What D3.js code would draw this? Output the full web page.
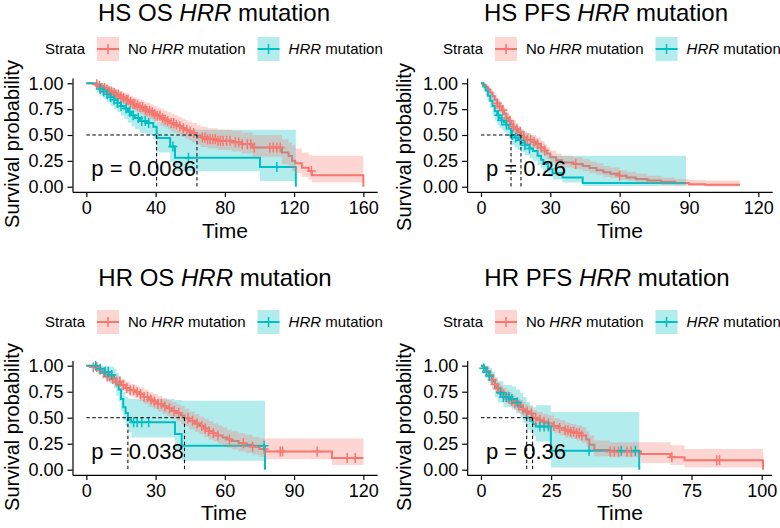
<!DOCTYPE html>
<html>
<head>
<meta charset="utf-8">
<script src="https://cdnjs.cloudflare.com/ajax/libs/d3/7.8.5/d3.min.js"></script>
<style>
  body { margin: 0; background: #fff; }
  svg { display: block; font-family: "Liberation Sans", Arial, sans-serif; }
</style>
</head>
<body>
<svg id="chart" width="780" height="528"></svg>
<script>
// ---- data: rows are [time, survival, lower CI, upper CI]; last row ends the curve
const titlePrefixes = ["HS OS", "HS PFS", "HR OS", "HR PFS"];
const pValues = ["p = 0.0086", "p = 0.26", "p = 0.038", "p = 0.36"];
const xTicks = [[0, 40, 80, 120, 160], [0, 30, 60, 90, 120], [0, 30, 60, 90, 120], [0, 25, 50, 75, 100]];
const yTicks = [0, 0.25, 0.5, 0.75, 1];
const medians = [[63.9, 40.6], [17.3, 13], [42.5, 18], [18.4, 16.3]];

const hsOsNo = [
  [0,1,1,1],[4,0.99,0.97,1],[7,0.975,0.95,1],[9,0.955,0.92,0.99],[11,0.94,0.9,0.98],
  [13,0.92,0.88,0.965],[15,0.905,0.86,0.95],[17,0.89,0.84,0.94],[19,0.87,0.82,0.925],
  [21,0.855,0.8,0.91],[23,0.84,0.78,0.9],[25,0.82,0.76,0.88],[27,0.8,0.74,0.865],
  [29,0.785,0.72,0.85],[31,0.77,0.7,0.84],[33,0.75,0.68,0.82],[35,0.735,0.665,0.81],
  [37,0.72,0.65,0.795],[39,0.7,0.63,0.78],[41,0.685,0.61,0.765],[43,0.665,0.59,0.75],
  [45,0.65,0.575,0.735],[47,0.635,0.555,0.72],[49,0.615,0.535,0.705],[51,0.6,0.52,0.69],
  [53,0.585,0.5,0.675],[55,0.565,0.48,0.66],[57,0.55,0.465,0.645],[59,0.535,0.45,0.63],
  [61,0.52,0.43,0.615],[63.9,0.495,0.405,0.595],[66,0.475,0.385,0.58],[70,0.46,0.37,0.565],
  [76,0.445,0.355,0.55],[84,0.43,0.34,0.54],[90,0.41,0.32,0.525],[96,0.38,0.29,0.5],
  [113,0.33,0.22,0.46],[116.8,0.297,0.19,0.43],[118.8,0.25,0.15,0.4],[120.7,0.226,0.13,0.37],
  [124.5,0.184,0.095,0.33],[128.4,0.152,0.07,0.31],[130.3,0.11,0.04,0.3],[160,0,0,0]
];
const hsOsHrr = [
  [0,1,1,1],[6,0.97,0.91,1],[8,0.945,0.88,1],[10,0.92,0.85,0.99],[12,0.895,0.82,0.975],
  [14,0.865,0.78,0.96],[16,0.84,0.75,0.94],[18,0.81,0.72,0.915],[20,0.78,0.685,0.89],
  [22,0.755,0.655,0.87],[24,0.725,0.62,0.845],[26,0.69,0.585,0.815],[28,0.665,0.555,0.79],
  [31,0.635,0.52,0.77],[35,0.615,0.5,0.755],[38.7,0.58,0.46,0.73],[40.6,0.47,0.33,0.62],
  [48.4,0.39,0.24,0.58],[51.2,0.28,0.15,0.55],[100.3,0.19,0.055,0.55],[121,0,0,0]
];
const hsPfsNo = [
  [0,1,1,1],[1,0.985,0.97,1],[2,0.965,0.94,0.99],[3,0.94,0.91,0.97],[4,0.91,0.875,0.945],
  [5,0.875,0.835,0.915],[6,0.84,0.795,0.885],[7,0.805,0.755,0.85],[8,0.775,0.725,0.825],
  [9,0.74,0.69,0.795],[10,0.705,0.65,0.76],[11,0.665,0.61,0.725],[12,0.635,0.58,0.695],
  [13,0.605,0.545,0.665],[14,0.58,0.52,0.64],[15,0.555,0.495,0.615],[16,0.53,0.47,0.59],
  [17.3,0.495,0.435,0.555],[18.5,0.475,0.415,0.535],[20,0.455,0.395,0.52],[21.6,0.435,0.375,0.5],
  [23.8,0.41,0.35,0.475],[26,0.38,0.32,0.445],[27.5,0.35,0.29,0.415],[28.5,0.32,0.265,0.385],
  [30,0.285,0.23,0.35],[32.5,0.255,0.2,0.32],[35,0.235,0.185,0.3],[40,0.22,0.17,0.285],
  [44,0.2,0.15,0.265],[47,0.18,0.13,0.245],[50,0.16,0.115,0.225],[53,0.14,0.095,0.2],
  [56,0.125,0.085,0.185],[60,0.105,0.065,0.16],[63,0.09,0.055,0.145],[67,0.075,0.04,0.125],
  [72,0.06,0.03,0.105],[78,0.048,0.02,0.09],[84,0.035,0.012,0.075],[90,0.025,0.006,0.065],
  [97,0.018,0.003,0.06],[112,0.018,0.003,0.06]
];
const hsPfsHrr = [
  [0,1,1,1],[1,0.97,0.94,1],[2,0.93,0.88,0.98],[3,0.88,0.82,0.95],[4,0.83,0.76,0.91],
  [5,0.78,0.7,0.87],[6,0.73,0.64,0.83],[7,0.69,0.6,0.79],[8,0.66,0.57,0.765],
  [9,0.64,0.55,0.745],[10,0.62,0.53,0.725],[11,0.6,0.51,0.705],[12,0.56,0.465,0.67],
  [13,0.5,0.405,0.615],[14.5,0.475,0.38,0.59],[16,0.45,0.355,0.57],[17.3,0.425,0.33,0.545],
  [19,0.4,0.305,0.52],[21,0.37,0.275,0.49],[22.5,0.345,0.25,0.465],[24.5,0.3,0.21,0.43],
  [26,0.26,0.175,0.39],[27,0.22,0.14,0.36],[29,0.17,0.1,0.31],[31,0.13,0.07,0.3],
  [35.3,0.09,0.04,0.3],[44,0.035,0.006,0.3],[88.7,0.035,0.006,0.3]
];
const hrOsNo = [
  [0,1,1,1],[3,0.985,0.965,1],[5,0.96,0.93,0.99],[7,0.93,0.895,0.965],[9,0.895,0.855,0.935],
  [11,0.87,0.825,0.915],[13,0.845,0.795,0.895],[15,0.815,0.76,0.87],[17,0.785,0.73,0.845],
  [19,0.765,0.705,0.825],[21,0.745,0.685,0.81],[23,0.725,0.66,0.79],[25,0.7,0.635,0.77],
  [27,0.675,0.605,0.745],[29,0.655,0.585,0.73],[31,0.635,0.56,0.71],[33,0.61,0.535,0.69],
  [35,0.59,0.515,0.67],[37,0.565,0.49,0.65],[39,0.545,0.465,0.63],[41,0.52,0.44,0.61],
  [42.5,0.495,0.415,0.585],[44.5,0.47,0.39,0.56],[47,0.445,0.365,0.535],[49,0.42,0.34,0.51],
  [51,0.395,0.315,0.49],[53,0.37,0.29,0.465],[55,0.35,0.27,0.445],[57,0.33,0.25,0.425],
  [59,0.31,0.23,0.405],[61,0.29,0.21,0.385],[63,0.275,0.195,0.37],[66,0.255,0.175,0.35],
  [69,0.24,0.16,0.335],[72,0.22,0.145,0.315],[75,0.2,0.125,0.3],[77.5,0.175,0.1,0.3],
  [106.4,0.112,0.045,0.3],[120,0.112,0.045,0.3]
];
const hrOsHrr = [
  [0,1,1,1],[5,0.97,0.92,1],[8,0.94,0.87,1],[10,0.91,0.83,0.99],[12,0.875,0.78,0.97],
  [13,0.82,0.71,0.93],[14,0.77,0.655,0.9],[15,0.68,0.56,0.82],[16,0.6,0.475,0.75],
  [17,0.545,0.42,0.7],[18,0.48,0.36,0.685],[19.5,0.456,0.31,0.68],[38.4,0.343,0.2,0.67],
  [41.3,0.231,0.087,0.663],[77.4,0,0,0]
];
const hrPfsNo = [
  [0,1,1,1],[1,0.98,0.955,1],[2,0.95,0.92,0.985],[3,0.91,0.87,0.95],[4,0.865,0.82,0.91],
  [5,0.82,0.77,0.87],[6,0.78,0.725,0.835],[7,0.75,0.695,0.81],[8,0.725,0.665,0.785],
  [9,0.7,0.64,0.76],[10,0.68,0.62,0.745],[11,0.66,0.6,0.725],[12,0.64,0.575,0.705],
  [13,0.62,0.555,0.685],[14,0.6,0.535,0.67],[15,0.58,0.515,0.65],[16,0.56,0.495,0.63],
  [17,0.54,0.47,0.61],[18.4,0.498,0.43,0.575],[20,0.48,0.41,0.555],[22,0.46,0.39,0.535],
  [24,0.445,0.375,0.52],[26,0.42,0.35,0.495],[28,0.4,0.33,0.475],[30,0.38,0.31,0.455],
  [32,0.365,0.295,0.44],[34,0.35,0.28,0.425],[36,0.33,0.26,0.41],[37.5,0.29,0.22,0.37],
  [38.6,0.24,0.175,0.33],[40.4,0.19,0.13,0.28],[46,0.175,0.12,0.265],[57,0.15,0.065,0.265],
  [67.5,0.12,0.045,0.235],[72.5,0.09,0.02,0.2],[100.5,0,0,0]
];
const hrPfsHrr = [
  [0,1,1,1],[1,0.975,0.93,1],[2,0.94,0.88,1],[3,0.9,0.83,0.975],[4,0.85,0.77,0.94],
  [5,0.79,0.7,0.89],[6,0.74,0.645,0.85],[8,0.7,0.6,0.815],[11,0.68,0.58,0.8],
  [12.5,0.645,0.54,0.77],[14,0.61,0.5,0.74],[15,0.56,0.45,0.7],[16.3,0.5,0.385,0.65],
  [17.5,0.47,0.355,0.62],[18.5,0.44,0.325,0.6],[19.5,0.415,0.27,0.62],[24.9,0.183,0.02,0.555],
  [56.4,0,0,0]
];

// censoring times (the "+" marks)
const hsOsNoCens = [6,7.5,9,10.5,12,13,14.5,16,17,18.5,20,21.5,23,24,25.5,27,28,29.5,31,32.5,34,35,36.5,38,39.5,41,42.5,44,45.5,47,49,50.5,52,54,56,58,60,62,67,68.5,70,71.5,73,74.5,76,77.5,79,81,83,86,88,90,93,95,97,106,108,110,112,130];
const hsOsHrrCens = [8,10,12,14,16,18,20,23,25,27,30,32,34,36,50,59,110];
const hsPfsNoCens = [7,8,9.5,11,12.5,14,15.5,17,18.5,20,21.5,23,24.5,26,27.5,41,60];
const hsPfsHrrCens = [7.5,9,11,13.5,15,17,19,21];
const hrOsNoCens = [3,4.5,6,7.5,9,10,11.5,13,14.5,16,17.5,19,20.5,22,23.5,25,26.5,28,29.5,31,32.5,34,36,38,40,44,46,48,50,51.5,53,55,57,62,68,72,77,84,85,100,113,116.5];
const hrOsHrrCens = [4,6,8,9.5,11,20.5,22,24,27,77];
const hrPfsNoCens = [2,3,4,5,6,7,8,9,10,11,12,13.5,15,16.5,18,19.5,21,22.5,24,26,28,30,31,32,33,34,35,36,46,47.5,49,52,53.5,68,84,85];
const hrPfsHrrCens = [1,2,3,7,8,9,10,11,13,21,22.5,24,38.5,50,55];

const curveData = [[hsOsNo, hsOsHrr], [hsPfsNo, hsPfsHrr], [hrOsNo, hrOsHrr], [hrPfsNo, hrPfsHrr]];
const censData = [[hsOsNoCens, hsOsHrrCens], [hsPfsNoCens, hsPfsHrrCens], [hrOsNoCens, hrOsHrrCens], [hrPfsNoCens, hrPfsHrrCens]];

// ---- layout (pixels)
const layout = [
  {xDomain:[-8,168], xRange:[72.5,377.2], yRange:[191.9,78.1], titleX:214, titleY:21, legX:45, legY:49,
   yTitleX:18.5, yTitleY:144, timeX:225, timeY:238, pY:175.5},
  {xDomain:[-6,126], xRange:[467.1,772.2], yRange:[191.9,78.1], titleX:606, titleY:21, legX:443, legY:49,
   yTitleX:411, yTitleY:147, timeX:620, timeY:238, pY:175.5},
  {xDomain:[-6,126], xRange:[72.5,377.2], yRange:[474.9,360.5], titleX:215, titleY:286, legX:45, legY:322,
   yTitleX:18.5, yTitleY:427, timeX:224, timeY:520, pY:459},
  {xDomain:[-4.9,103.5], xRange:[467.2,771.5], yRange:[474.9,360.5], titleX:607, titleY:286, legX:443, legY:322,
   yTitleX:411, yTitleY:427, timeX:620, timeY:520, pY:459}
];

const colors = ["#F8766D", "#00BFC4"];
const svg = d3.select("#chart");

function survAt(rows, t) {
  let s = 1;
  rows.forEach(r => { if (r[0] <= t) s = r[1]; });
  return s;
}

function bandPts(rows) {
  const last = rows[rows.length - 1];
  if (last[1] === 0) {
    const prev = rows[rows.length - 2];
    return rows.slice(0, -1).concat([[last[0], prev[1], prev[2], prev[3]]]);
  }
  return rows;
}

function drawPanel(k) {
  const L = layout[k];
  const x = d3.scaleLinear().domain(L.xDomain).range(L.xRange);
  const y = d3.scaleLinear().domain([-0.05, 1.05]).range(L.yRange);
  const g = svg.append("g");
  const curves = curveData[k];

  const line = d3.line().curve(d3.curveStepAfter).x(d => x(d[0])).y(d => y(d[1]));
  curves.forEach((c, j) => {
    g.append("path").attr("d", line(c)).attr("fill", "none")
      .attr("stroke", colors[j]).attr("stroke-width", 2);
  });

  const area = d3.area().curve(d3.curveStepAfter)
    .x(d => x(d[0])).y0(d => y(d[2])).y1(d => y(d[3]));
  [1, 0].forEach(j => {
    g.append("path").attr("d", area(bandPts(curves[j])))
      .attr("fill", colors[j]).attr("fill-opacity", 0.3);
  });

  censData[k].forEach((cs, j) => {
    g.selectAll(null).data(cs).enter().append("path")
      .attr("d", "M-4.5,0H4.5M0,-5V5")
      .attr("transform", d => `translate(${x(d)},${y(survAt(curves[j], d))})`)
      .attr("stroke", colors[j]).attr("stroke-width", 1.5).attr("fill", "none");
  });

  // median lines
  const med = medians[k];
  g.append("line")
    .attr("x1", x(0)).attr("x2", x(d3.max(med)))
    .attr("y1", y(0.5)).attr("y2", y(0.5))
    .attr("stroke", "#000").attr("stroke-width", 1).attr("stroke-dasharray", "3.5,2.5");
  g.selectAll(null).data(med).enter().append("line")
    .attr("x1", d => x(d)).attr("x2", d => x(d))
    .attr("y1", y(0.5)).attr("y2", y(0))
    .attr("stroke", "#000").attr("stroke-width", 1).attr("stroke-dasharray", "3.5,2.5");

  // axes
  const xa = g.append("g").attr("transform", `translate(0,${L.yRange[0]})`)
    .call(d3.axisBottom(x).tickValues(xTicks[k]).tickSize(5).tickPadding(4).tickSizeOuter(0));
  const ya = g.append("g").attr("transform", `translate(${L.xRange[0]},0)`)
    .call(d3.axisLeft(y).tickValues(yTicks).tickFormat(d3.format(".2f")).tickSize(5).tickPadding(4).tickSizeOuter(0));
  [xa, ya].forEach(a => {
    a.attr("font-family", null).attr("font-size", 18);
    a.selectAll("path, line").attr("stroke", "#000").attr("stroke-width", 1.2);
    a.selectAll("text").attr("fill", "#000");
  });

  // p value
  g.append("text").attr("x", x(0) + 5).attr("y", L.pY)
    .attr("font-size", 22).attr("fill", "#000").text(pValues[k]);

  // axis titles
  g.append("text").attr("x", L.timeX).attr("y", L.timeY)
    .attr("text-anchor", "middle").attr("font-size", 21).text("Time");
  g.append("text")
    .attr("transform", `translate(${L.yTitleX},${L.yTitleY}) rotate(-90)`)
    .attr("text-anchor", "middle").attr("font-size", 20).text("Survival probability");

  // title
  const t = g.append("text").attr("x", L.titleX).attr("y", L.titleY)
    .attr("text-anchor", "middle").attr("font-size", 24);
  t.append("tspan").text(titlePrefixes[k] + " ");
  t.append("tspan").attr("font-style", "italic").text("HRR");
  t.append("tspan").text(" mutation");

  // legend
  const lg = g.append("g").attr("transform", `translate(${L.legX},${L.legY})`);
  lg.append("text").attr("y", 5).attr("font-size", 15).text("Strata");
  let cx = 52;
  [["No ", "HRR", " mutation"], ["", "HRR", " mutation"]].forEach((lab, j) => {
    const key = lg.append("g").attr("transform", `translate(${cx},0)`);
    key.append("rect").attr("x", 0).attr("y", -12).attr("width", 22).attr("height", 24)
      .attr("fill", colors[j]).attr("fill-opacity", 0.3);
    key.append("line").attr("x1", 0).attr("x2", 22).attr("y1", 0).attr("y2", 0)
      .attr("stroke", colors[j]).attr("stroke-width", 2);
    key.append("path").attr("d", "M6.5,0H15.5M11,-5V5")
      .attr("stroke", colors[j]).attr("stroke-width", 1.5);
    const tx = lg.append("text").attr("x", cx + 31).attr("y", 5).attr("font-size", 15);
    if (lab[0]) tx.append("tspan").text(lab[0]);
    tx.append("tspan").attr("font-style", "italic").text(lab[1]);
    tx.append("tspan").text(lab[2]);
    cx = cx + 31 + tx.node().getComputedTextLength() + 12;
  });
}

[0, 1, 2, 3].forEach(drawPanel);
</script>
</body>
</html>
